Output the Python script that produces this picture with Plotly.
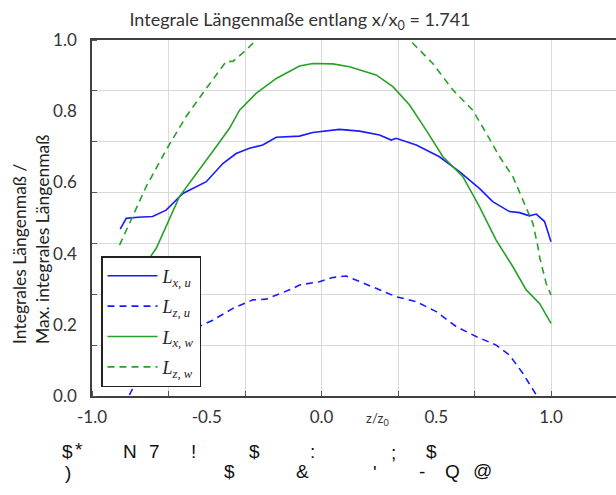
import plotly.graph_objects as go

# ---------------- data ----------------
z_xu = [-0.877, -0.851, -0.80, -0.736, -0.677, -0.604, -0.502, -0.43, -0.372, -0.314, -0.256, -0.197,
        -0.096, -0.038, 0.078, 0.166, 0.253, 0.304, 0.325, 0.413, 0.514, 0.601, 0.688, 0.746, 0.819,
        0.863, 0.906, 0.936, 0.972, 1.0]
L_xu = [0.469, 0.499, 0.502, 0.504, 0.522, 0.569, 0.602, 0.653, 0.681, 0.696, 0.705, 0.727,
        0.730, 0.740, 0.749, 0.744, 0.733, 0.719, 0.724, 0.705, 0.672, 0.630, 0.583, 0.546, 0.518,
        0.515, 0.506, 0.511, 0.490, 0.433]

z_zu = [-0.85, -0.837, -0.815, -0.75, -0.65, -0.55, -0.474, -0.386, -0.299, -0.241, -0.125, -0.096,
        -0.009, 0.049, 0.108, 0.166, 0.253, 0.325, 0.413, 0.5, 0.587, 0.674, 0.761, 0.819, 0.877, 0.936]
L_zu = [-0.03, 0.003, 0.031, 0.09, 0.15, 0.19, 0.213, 0.246, 0.270, 0.272, 0.302, 0.312,
        0.321, 0.333, 0.337, 0.321, 0.298, 0.279, 0.265, 0.237, 0.195, 0.167, 0.143, 0.115, 0.064, 0.003]

z_xw = [-0.88, -0.80, -0.749, -0.72, -0.619, -0.532, -0.459, -0.401, -0.357, -0.285, -0.197, -0.096,
        -0.038, 0.049, 0.122, 0.238, 0.311, 0.383, 0.456, 0.529, 0.616, 0.688, 0.746, 0.761, 0.834,
        0.892, 0.950, 1.0]
L_xw = [0.20, 0.32, 0.388, 0.415, 0.560, 0.635, 0.700, 0.752, 0.803, 0.850, 0.892, 0.927,
        0.934, 0.933, 0.925, 0.902, 0.869, 0.818, 0.747, 0.672, 0.616, 0.532, 0.457, 0.438, 0.363,
        0.298, 0.260, 0.204]

z_zw = [-0.880, -0.822, -0.764, -0.677, -0.590, -0.502, -0.415, -0.386, -0.328, -0.285, -0.2, -0.1,
        0.05, 0.2, 0.3, 0.398, 0.485, 0.572, 0.659, 0.718, 0.776, 0.834, 0.877, 0.921, 0.943, 0.95,
        0.979, 1.0]
L_zw = [0.424, 0.504, 0.588, 0.691, 0.785, 0.864, 0.940, 0.940, 0.972, 1.0, 1.05, 1.09,
        1.11, 1.09, 1.05, 0.991, 0.934, 0.860, 0.803, 0.738, 0.672, 0.616, 0.551, 0.485, 0.419, 0.391,
        0.316, 0.284]

series_names = ["<i>L</i><sub><i>x, u</i></sub>", "<i>L</i><sub><i>z, u</i></sub>",
                "<i>L</i><sub><i>x, w</i></sub>", "<i>L</i><sub><i>z, w</i></sub>"]

x_tick_vals = [-1.0, -0.5, 0.0, 0.5, 1.0]
x_tick_text = ["-1.0", "-0.5", "0.0", "0.5", "1.0"]
y_tick_vals = [0.0, 0.2, 0.4, 0.6, 0.8, 1.0]
y_tick_text = ["0.0", "0.2", "0.4", "0.6", "0.8", "1.0"]
x_grid_vals = [-1.0, -2/3, -1/3, 0.0, 1/3, 2/3, 1.0, 4/3]
y_grid_vals = [k / 7 for k in range(8)]

title_text = "Integrale Längenmaße entlang x/x<sub>0</sub> = 1.741"
ytitle_text = "Integrales Längenmaß /<br>Max. integrales Längenmaß"
xtitle_text = "z/z<sub>0</sub>"

# stray glyphs below the chart in the reference (char, px, py)
stray_glyphs = [("$", 67, 451), ("*", 79, 449), ("N", 130, 451), ("7", 154, 451), ("!", 193, 451),
                ("$", 254, 451), (":", 312, 451), (";", 393, 452), ("$", 431, 451),
                (")", 68, 472), ("$", 229, 471), ("&", 302, 471), ("'", 375, 472), ("-", 422, 471),
                ("Q", 452, 471), ("@", 482, 470)]

# ---------------- figure ----------------
W, H = 616, 495
ML, MR, MT, MB = 92, 0, 40, 99
PW, PH = W - ML - MR, H - MT - MB

BLUE = "#1a1aff"
GREEN = "#27a127"

fig = go.Figure()
specs = [(z_xu, L_xu, BLUE, "solid"), (z_zu, L_zu, BLUE, "7px,5px"),
         (z_xw, L_xw, GREEN, "solid"), (z_zw, L_zw, GREEN, "7px,5px")]
for i, ((xs, ys, c, d), nm) in enumerate(zip(specs, series_names)):
    fig.add_trace(go.Scatter(x=xs, y=ys, mode="lines", name=nm, legendgroup=f"g{i}",
                             line=dict(color=c, width=1.6, dash=d)))


def px2paper(px, py):
    return (px - ML) / PW, (H - MB - py) / PH


annotations = []
ax, ay = px2paper(31, 240)
annotations.append(dict(text=ytitle_text, x=ax, y=ay, xref="paper", yref="paper", textangle=-90,
                        showarrow=False, align="left", xanchor="center", yanchor="middle",
                        font=dict(family="Lato", size=17.5, color="#222")))
ax, ay = px2paper(377, 419)
annotations.append(dict(text=xtitle_text, x=ax, y=ay, xref="paper", yref="paper", showarrow=False,
                        xanchor="center", yanchor="middle", font=dict(family="Lato", size=13, color="#333")))
for ch, gx, gy in stray_glyphs:
    ax, ay = px2paper(gx, gy)
    annotations.append(dict(text=ch, x=ax, y=ay, xref="paper", yref="paper", showarrow=False,
                            xanchor="center", yanchor="middle",
                            font=dict(family="Liberation Sans", size=19, color="#111")))

lx, ly = px2paper(101, 256)

fig.update_layout(
    width=W, height=H,
    margin=dict(l=ML, r=MR, t=MT, b=MB, pad=0, autoexpand=False),
    paper_bgcolor="white", plot_bgcolor="white",
    title=dict(text=title_text, x=300 / W, xref="container", xanchor="center",
               y=1 - 20 / H, yref="container", yanchor="middle",
               font=dict(family="Lato", size=18, color="#333")),
    legend=dict(x=lx, y=ly, xanchor="left", yanchor="top", bgcolor="white",
                bordercolor="#222", borderwidth=1.5, tracegroupgap=4,
                font=dict(family="Liberation Serif", size=18, color="#222"),
                itemwidth=50),
    showlegend=True,
    annotations=annotations,
    xaxis=dict(range=[-1.0, -1.0 + 2.0 * PW / 459.0], tickvals=x_tick_vals, ticktext=x_tick_text,
               showgrid=False, zeroline=False, ticks="", ticklabelstandoff=5, automargin=False,
               showline=True, linecolor="#404040", linewidth=1.6, mirror=True,
               tickfont=dict(family="Lato", size=17, color="#333"),
               minor=dict(tickvals=x_grid_vals, showgrid=True, gridcolor="#d9d9d9", gridwidth=1,
                          ticks="inside", ticklen=5, tickcolor="#555", tickwidth=1)),
    yaxis=dict(range=[0, 1], tickvals=y_tick_vals, ticktext=y_tick_text,
               showgrid=False, zeroline=False, ticks="", ticklabelstandoff=10, automargin=False,
               showline=True, linecolor="#404040", linewidth=1.6, mirror=False,
               tickfont=dict(family="Lato", size=17, color="#333"),
               minor=dict(tickvals=y_grid_vals, showgrid=True, gridcolor="#d9d9d9", gridwidth=1,
                          ticks="inside", ticklen=5, tickcolor="#555", tickwidth=1)),
)

fig.write_html("out.html", config={"displayModeBar": False},
               post_script="document.body.style.margin='0';")
